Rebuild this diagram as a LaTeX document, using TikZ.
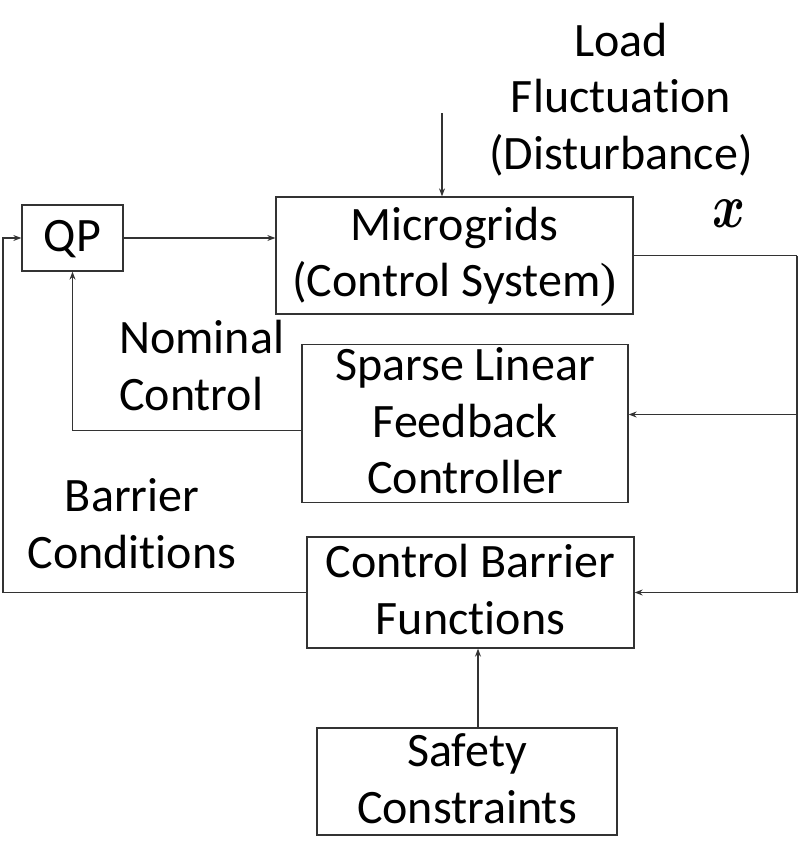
\documentclass[tikz,border=0pt]{standalone}
\usepackage{amsmath}
\usepackage{fontspec}
\setmainfont{Carlito}[Ligatures=NoCommon]
\newfontfamily\serifparen{Liberation Serif}
\usetikzlibrary{arrows.meta}
\newcommand\ls{\rule[-9pt]{0pt}{45pt}}
\begin{document}
\begin{tikzpicture}[x=1pt,y=-1pt,font=\fontsize{48}{56.5}\selectfont,
  box/.style={draw=black!80,line width=1.3pt,inner sep=0pt,align=center},
  conn/.style={draw=black!80,line width=1.1pt},
  arr/.style={conn,-{Stealth[length=8pt,width=6pt]}},
  lbl/.style={inner sep=0pt,align=center}]
\useasboundingbox (0,0) rectangle (800,867);
\node[box,minimum width=101pt,minimum height=66pt] (qp) at (72.5,238) {\ls QP};
\node[box,minimum width=357pt,minimum height=117pt] (mg) at (454.5,255.5) {\ls Microgrids\\\ls(Control System{\serifparen)}};
\node[box,minimum width=326pt,minimum height=157pt] (slfc) at (465,423.5) {\ls Sparse Linear\\\ls Feedback\\\ls Controller};
\node[box,minimum width=327pt,minimum height=111pt] (cbf) at (470.5,592.5) {\ls Control Barrier\\\ls Functions};
\node[box,minimum width=300pt,minimum height=107pt] (sc) at (467,781.5) {\ls Safety\\\ls Constraints};
\node[lbl] (load) at (621,99) {\ls Load\\\ls Fluctuation\\\ls (Disturbance)};
\node[lbl,align=left,anchor=west] (nom) at (119,368.5) {\ls Nominal\\\ls Control};
\node[lbl] (bar) at (132,526.5) {\ls Barrier\\\ls Conditions};
\node[inner sep=0pt,font=\normalsize] (xs) at (729,214) {\scalebox{5}[6.2]{$\boldsymbol{x}$}};
\coordinate (dtop) at (442,113);
\draw[arr] (dtop) -- (dtop |- mg.north);
\draw[arr] (qp.east) -- (qp.east -| mg.west);
\coordinate (R) at (797,255.5);
\coordinate (slfcin) at ([yshift=9pt]slfc.east);
\draw[conn] (mg.east) -- (R);
\draw[arr] (R) |- (cbf.east);
\draw[arr] (R |- slfcin) -- (slfcin);
\draw[arr] ([yshift=-7pt]slfc.west) -| (qp.south);
\coordinate (L) at (3,592.5);
\draw[arr] (cbf.west) -- (L) |- (qp.west);
\coordinate (sx) at (478,0);
\draw[arr] (sc.north -| sx) -- (cbf.south -| sx);
\end{tikzpicture}
\end{document}
